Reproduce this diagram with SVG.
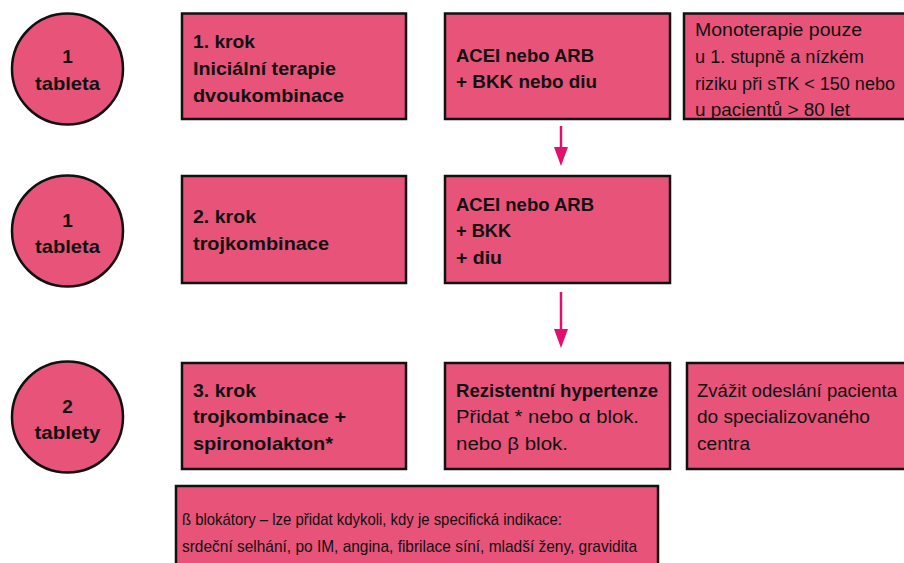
<svg xmlns="http://www.w3.org/2000/svg" width="904" height="563" viewBox="0 0 904 563">
<style>
.n{fill:#E8537A;stroke:#111;stroke-width:2.5}
.b{font-family:"Liberation Sans",Arial,sans-serif;font-weight:bold;font-size:19px;fill:#111}
.r{font-family:"Liberation Sans",Arial,sans-serif;font-size:17.5px;fill:#111}
.s{font-family:"Liberation Sans",Arial,sans-serif;font-size:17px;fill:#111}
.c{text-anchor:middle}
.a{stroke:#E2106C;stroke-width:2.5;fill:none}
.h{fill:#E2106C}
</style>
<rect width="904" height="563" fill="#fff"/>
<g id="c1"><circle class="n" cx="67.5" cy="69" r="55.5"/><text class="b c" x="67.5" y="63">1</text><text class="b c" x="67.5" y="90" textLength="65" lengthAdjust="spacingAndGlyphs">tableta</text></g>
<g id="c2"><circle class="n" cx="67.5" cy="231" r="55.5"/><text class="b c" x="67.5" y="227">1</text><text class="b c" x="67.5" y="253" textLength="65" lengthAdjust="spacingAndGlyphs">tableta</text></g>
<g id="c3"><circle class="n" cx="67.5" cy="417" r="55.5"/><text class="b c" x="67.5" y="413">2</text><text class="b c" x="67.5" y="439" textLength="66" lengthAdjust="spacingAndGlyphs">tablety</text></g>
<g id="k1"><rect class="n" x="182" y="13.5" width="224" height="105.5"/><text class="b" x="193" y="48" textLength="62" lengthAdjust="spacingAndGlyphs">1. krok</text><text class="b" x="193" y="75" textLength="143" lengthAdjust="spacingAndGlyphs">Iniciální terapie</text><text class="b" x="193" y="102" textLength="151" lengthAdjust="spacingAndGlyphs">dvoukombinace</text></g>
<g id="a1"><rect class="n" x="445" y="13.5" width="225" height="105.5"/><text class="b" x="456" y="62" textLength="138" lengthAdjust="spacingAndGlyphs">ACEI nebo ARB</text><text class="b" x="456" y="88" textLength="141" lengthAdjust="spacingAndGlyphs">+ BKK nebo diu</text></g>
<g id="m1"><rect class="n" x="684" y="13.5" width="225" height="105.5"/><text class="r" x="695" y="36" textLength="167" lengthAdjust="spacingAndGlyphs">Monoterapie pouze</text><text class="r" x="695" y="63" textLength="169" lengthAdjust="spacingAndGlyphs">u 1. stupně a nízkém</text><text class="r" x="695" y="90" textLength="200" lengthAdjust="spacingAndGlyphs">riziku při sTK &lt; 150 nebo</text><text class="r" x="695" y="116" textLength="155" lengthAdjust="spacingAndGlyphs">u pacientů &gt; 80 let</text></g>
<g id="k2"><rect class="n" x="182" y="176" width="224" height="107"/><text class="b" x="193" y="223" textLength="63" lengthAdjust="spacingAndGlyphs">2. krok</text><text class="b" x="193" y="250" textLength="136" lengthAdjust="spacingAndGlyphs">trojkombinace</text></g>
<g id="a2"><rect class="n" x="445" y="176" width="225" height="107"/><text class="b" x="456" y="211" textLength="138" lengthAdjust="spacingAndGlyphs">ACEI nebo ARB</text><text class="b" x="456" y="237" textLength="55" lengthAdjust="spacingAndGlyphs">+ BKK</text><text class="b" x="456" y="264" textLength="46" lengthAdjust="spacingAndGlyphs">+ diu</text></g>
<g id="k3"><rect class="n" x="182" y="363" width="224" height="106"/><text class="b" x="193" y="397" textLength="63" lengthAdjust="spacingAndGlyphs">3. krok</text><text class="b" x="193" y="423" textLength="153" lengthAdjust="spacingAndGlyphs">trojkombinace +</text><text class="b" x="193" y="450" textLength="140" lengthAdjust="spacingAndGlyphs">spironolakton*</text></g>
<g id="r3"><rect class="n" x="445" y="363" width="225" height="106"/><text class="b" x="456" y="397" textLength="202" lengthAdjust="spacingAndGlyphs">Rezistentní hypertenze</text><text class="r" x="456" y="423" textLength="183" lengthAdjust="spacingAndGlyphs">Přidat * nebo α blok.</text><text class="r" x="456" y="450" textLength="112" lengthAdjust="spacingAndGlyphs">nebo β blok.</text></g>
<g id="z3"><rect class="n" x="687" y="363" width="225" height="106"/><text class="r" x="697" y="397" textLength="200" lengthAdjust="spacingAndGlyphs">Zvážit odeslání pacienta</text><text class="r" x="697" y="423" textLength="173" lengthAdjust="spacingAndGlyphs">do specializovaného</text><text class="r" x="697" y="450" textLength="53" lengthAdjust="spacingAndGlyphs">centra</text></g>
<g id="bb"><rect class="n" x="176" y="486" width="482" height="90"/><text class="s" x="182" y="525" textLength="380" lengthAdjust="spacingAndGlyphs">ß blokátory – lze přidat kdykoli, kdy je specifická indikace:</text><text class="s" x="182" y="552" textLength="455" lengthAdjust="spacingAndGlyphs">srdeční selhání, po IM, angina, fibrilace síní, mladší ženy, gravidita</text></g>
<g id="connectors">
<line class="a" x1="561" y1="126" x2="561" y2="148"/><path class="h" d="M554,147 L568,147 L561,166 Z"/>
<line class="a" x1="561" y1="292" x2="561" y2="330"/><path class="h" d="M554,329 L568,329 L561,348 Z"/>
</g>
</svg>
